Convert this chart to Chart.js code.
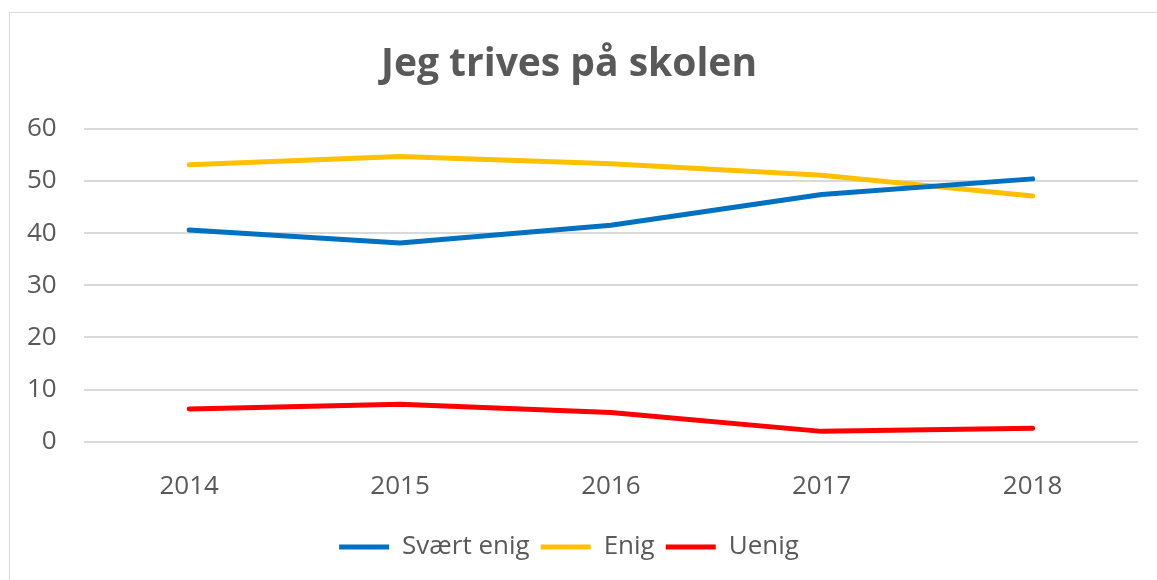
<!DOCTYPE html>
<html>
<head>
<meta charset="utf-8">
<script src="https://cdn.jsdelivr.net/npm/chart.js@4"></script>
<style>
  body { margin: 0; background: #fff; }
  #frame { position: absolute; left: 9px; top: 12px; width: 1160px; height: 600px; border: 1px solid #d9d9d9; }
  #wrap { position: absolute; left: 0; top: 0; width: 1157px; height: 580px; }
</style>
</head>
<body>
<div id="frame"></div>
<div id="wrap"><canvas id="myChart"></canvas></div>
<script>
// years on the x axis
const years = ["2014", "2015", "2016", "2017", "2018"];

// share of pupils per answer (%)
const svaertEnig = [40.6, 38.1, 41.5, 47.4, 50.4];
const enig = [53.1, 54.7, 53.3, 51.1, 47.1];
const uenig = [6.3, 7.2, 5.6, 2.0, 2.6];

const textColor = "#595959";
const gridColor = "#d9d9d9";
const fontFam = "'Open Sans', sans-serif";

const mkLine = (label, data, color) => {
  return {
    label: label,
    data: data,
    borderColor: color,
    backgroundColor: color,
    borderWidth: 5,
    borderCapStyle: 'round',
    borderJoinStyle: 'round',
    pointRadius: 0,
    pointStyle: 'line',
    tension: 0,
    fill: false
  };
};

const ctx = document.getElementById('myChart');

new Chart(ctx, {
  type: 'line',
  data: {
    labels: years,
    datasets: [
      mkLine('Svært enig', svaertEnig, "#0070C0"),
      mkLine('Enig', enig, "#FFC000"),
      mkLine('Uenig', uenig, "#FF0000")
    ]
  },
  options: {
    responsive: true,
    maintainAspectRatio: false,
    animation: false,
    layout: { padding: { left: 0, right: 19, top: 41, bottom: 10 } },
    plugins: {
      title: {
        display: true,
        text: 'Jeg trives på skolen',
        color: textColor,
        font: { family: fontFam, size: 39, weight: 'bold' },
        padding: { top: 0, bottom: 41 }
      },
      legend: {
        position: 'bottom',
        labels: {
          usePointStyle: true,
          pointStyleWidth: 50,
          color: textColor,
          font: { family: fontFam, size: 26 },
          padding: 11
        }
      },
      tooltip: { enabled: false }
    },
    scales: {
      x: {
        offset: true,
        grid: { display: false },
        border: { display: false },
        ticks: {
          color: textColor,
          font: { family: fontFam, size: 26 },
          padding: 21
        }
      },
      y: {
        min: 0,
        max: 60,
        ticks: {
          stepSize: 10,
          color: textColor,
          font: { family: fontFam, size: 26 },
          padding: 27
        },
        grid: { color: gridColor, lineWidth: 2, drawTicks: false },
        border: { display: false }
      }
    }
  }
});
</script>
</body>
</html>
